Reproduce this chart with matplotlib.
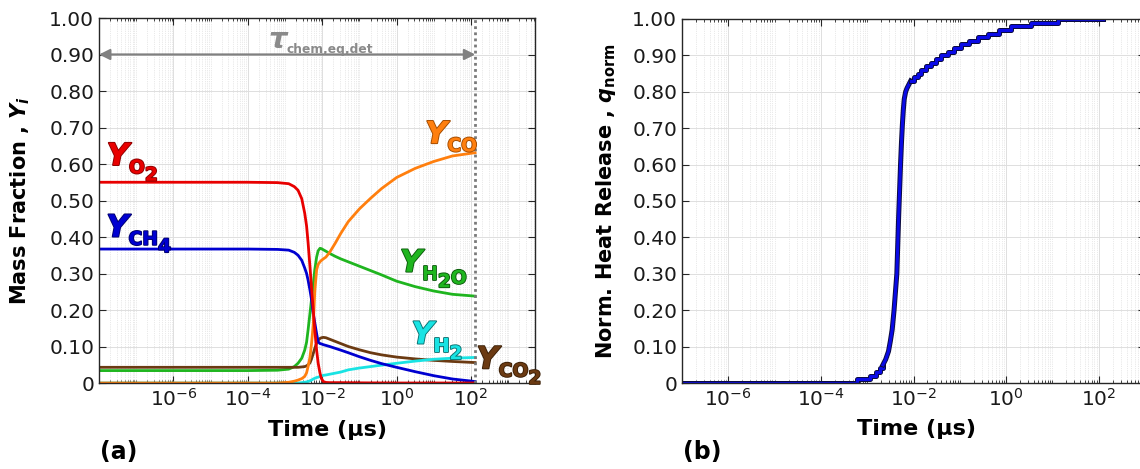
import numpy as np
import matplotlib
matplotlib.use("Agg")
import matplotlib.pyplot as plt
import matplotlib.patheffects as pe
from matplotlib.ticker import LogLocator, FixedLocator, NullFormatter

plt.rcParams['font.family'] = 'DejaVu Sans'
plt.rcParams['mathtext.fontset'] = 'custom'
plt.rcParams['mathtext.it'] = 'DejaVu Sans:italic:bold'
plt.rcParams['mathtext.rm'] = 'DejaVu Sans:bold'
plt.rcParams['mathtext.bf'] = 'DejaVu Sans:bold'

# species mass fractions vs log10(time / us)
logt = [-8.0, -4.0, -3.2, -2.9, -2.75, -2.65, -2.55, -2.47, -2.42, -2.38, -2.33,
        -2.29, -2.24, -2.20, -2.15, -2.11, -2.06, -2.02, -1.97, -1.9, -1.8,
        -1.65, -1.5, -1.3, -1.0, -0.7, -0.4, 0.0, 0.5, 1.0, 1.5, 2.11]
Y_O2 = [0.550, 0.550, 0.549, 0.546, 0.538, 0.528, 0.505, 0.465, 0.430, 0.385, 0.320,
        0.265, 0.200, 0.145, 0.090, 0.055, 0.027, 0.012, 0.004, 0.0015, 0.001,
        0.001, 0.001, 0.0008, 0.0005, 0.0003, 0.0002, 0.0, 0.0, 0.0, 0.0, 0.0]
Y_CH4 = [0.367, 0.367, 0.366, 0.364, 0.358, 0.350, 0.336, 0.315, 0.300, 0.282, 0.255,
         0.230, 0.190, 0.165, 0.135, 0.113, 0.108, 0.107, 0.105, 0.103, 0.100,
         0.095, 0.090, 0.083, 0.072, 0.062, 0.053, 0.043, 0.031, 0.020, 0.011, 0.004]
Y_CO = [0.0, 0.0, 0.0, 0.002, 0.005, 0.008, 0.012, 0.018, 0.028, 0.045, 0.070,
        0.105, 0.160, 0.250, 0.310, 0.325, 0.332, 0.336, 0.340, 0.345, 0.358,
        0.383, 0.410, 0.442, 0.477, 0.506, 0.533, 0.563, 0.588, 0.607, 0.622, 0.631]
Y_H2O = [0.034, 0.034, 0.035, 0.038, 0.045, 0.054, 0.068, 0.090, 0.112, 0.145, 0.190,
         0.227, 0.270, 0.310, 0.345, 0.362, 0.369, 0.368, 0.365, 0.361, 0.355,
         0.347, 0.340, 0.332, 0.320, 0.308, 0.296, 0.279, 0.264, 0.252, 0.243, 0.238]
Y_CO2 = [0.043, 0.043, 0.043, 0.043, 0.043, 0.043, 0.044, 0.045, 0.047, 0.050, 0.055,
         0.065, 0.081, 0.095, 0.109, 0.117, 0.122, 0.124, 0.125, 0.124, 0.120,
         0.114, 0.108, 0.100, 0.091, 0.083, 0.077, 0.071, 0.066, 0.062, 0.059, 0.056]
Y_H2 = [0.0, 0.0, 0.0, 0.0, 0.0, 0.0, 0.001, 0.002, 0.003, 0.004, 0.006,
        0.008, 0.011, 0.013, 0.015, 0.016, 0.018, 0.019, 0.021, 0.022, 0.024,
        0.027, 0.030, 0.036, 0.041, 0.045, 0.049, 0.054, 0.060, 0.065, 0.068, 0.070]

# normalised heat release: early steps, steep rise, late steps
q_low_logt = [-7.0, -3.23, -2.94, -2.82, -2.72, -2.66]
q_low = [0.0, 0.01, 0.02, 0.03, 0.04, 0.05]
q_rise_logt = [-2.66, -2.60, -2.54, -2.50, -2.46, -2.42, -2.39, -2.36, -2.34, -2.32,
               -2.30, -2.28, -2.26, -2.24, -2.22, -2.20, -2.17, -2.14, -2.10, -2.06]
q_rise = [0.05, 0.065, 0.087, 0.115, 0.147, 0.20, 0.25, 0.30, 0.38, 0.46,
          0.53, 0.60, 0.66, 0.71, 0.75, 0.78, 0.80, 0.81, 0.82, 0.83]
q_high_logt = [-2.06, -1.98, -1.91, -1.84, -1.73, -1.62, -1.51, -1.40, -1.26, -1.12,
               -0.97, -0.80, -0.61, -0.40, -0.15, 0.11, 0.54, 1.12, 2.09]
q_high = [0.83, 0.84, 0.85, 0.86, 0.87, 0.88, 0.89, 0.90, 0.91, 0.92,
          0.93, 0.94, 0.95, 0.96, 0.97, 0.98, 0.99, 1.00, 1.00]

t_eq = 130.0  # end of integration, us
yticks = [0, 0.1, 0.2, 0.3, 0.4, 0.5, 0.6, 0.7, 0.8, 0.9, 1.0]
ytick_labels = ['0'] + ['%.2f' % v for v in yticks[1:]]

c_o2, c_ch4, c_co = '#e80000', '#0000d0', '#ff7f0e'
c_h2o, c_co2, c_h2 = '#1fb51f', '#6b3a12', '#19e3e3'


def style_axes(ax, xlim):
    ax.set_xscale('log')
    ax.set_xlim(*xlim)
    ax.set_ylim(0, 1)
    ax.set_yticks(yticks)
    ax.set_yticklabels(ytick_labels)
    ax.xaxis.set_major_locator(FixedLocator([1e-6, 1e-4, 1e-2, 1e0, 1e2]))
    ax.xaxis.set_minor_locator(LogLocator(base=10, subs=np.arange(1, 10), numticks=30))
    ax.xaxis.set_minor_formatter(NullFormatter())
    ax.tick_params(which='both', direction='in', top=True, right=True,
                   labelsize=14.5, colors='#262626', labelcolor='#1a1a1a')
    ax.tick_params(which='major', length=5, width=0.8)
    ax.tick_params(which='minor', length=2.5, width=0.6)
    ax.grid(True, which='major', color='#dedede', lw=0.7, ls='-')
    ax.grid(True, which='minor', axis='x', color='#d4d4d4', lw=0.5, ls=':')
    ax.set_axisbelow(True)
    for s in ax.spines.values():
        s.set_color('#262626')
        s.set_linewidth(1.0)
    ax.set_xlabel('Time (μs)', fontsize=16, fontweight='bold')


def sub_label(ax, x, y, head, parts, color, edge, size=22, sub_size=13.5):
    # italic head symbol followed by subscript pieces; each piece is
    # (text, baseline shift in points relative to the previous piece's bbox bottom)
    kw = dict(color=color, fontweight='bold')
    if edge is not None:
        kw['path_effects'] = [pe.withStroke(linewidth=1.3, foreground=edge)]
    t = ax.text(x, y, head, fontsize=size, fontstyle='italic',
                va='baseline', ha='left', **kw)
    for s, dy in parts:
        t = ax.annotate(s, xy=(1, 0), xycoords=t, xytext=(0, dy),
                        textcoords='offset points', va='baseline', ha='left',
                        fontsize=sub_size, **kw)


fig = plt.figure(figsize=(11.4, 4.69), dpi=100)
ax1 = fig.add_axes([99 / 1140, 86 / 469, 436 / 1140, 365 / 469])
ax2 = fig.add_axes([682 / 1140, 86 / 469, 463 / 1140, 364 / 469])

# (a) species mass fractions
t = 10.0 ** np.array(logt)
ax1.plot(t, Y_H2O, color=c_h2o, lw=2)
ax1.plot(t, Y_CO2, color=c_co2, lw=2)
ax1.plot(t, Y_H2, color=c_h2, lw=2)
ax1.plot(t, Y_CH4, color=c_ch4, lw=2)
ax1.plot(t, Y_CO, color=c_co, lw=2)
ax1.plot(t, Y_O2, color=c_o2, lw=2)
style_axes(ax1, (1e-8, 10 ** 3.72))
ax1.set_ylabel(r'Mass Fraction , $Y_i$', fontsize=15, fontweight='bold', labelpad=12)
ax1.xaxis.set_label_coords(0.523, -0.10)

ax1.axvline(t_eq, color='#7a7a7a', lw=2, ls=(0, (1, 1.2)))
ax1.annotate('', xy=(1e-8, 0.9), xytext=(t_eq, 0.9),
             arrowprops=dict(arrowstyle='<|-|>', color='#808080', lw=1.6,
                             mutation_scale=16, shrinkA=0, shrinkB=0))
sub_label(ax1, 10 ** -3.45, 0.918, 'τ', [('chem,eq,det', 1.0)], '#8a8a8a', None,
          size=21, sub_size=8.8)

sub_label(ax1, 10 ** -7.79, 0.597, 'Y', [('O', -1.6), ('2', -2.4)], c_o2, '#8a0000')
sub_label(ax1, 10 ** -7.8, 0.401, 'Y', [('CH', -1.6), ('4', -2.4)], c_ch4, '#00006a')
sub_label(ax1, 10 ** 0.77, 0.657, 'Y', [('CO', -1.6)], c_co, '#a04a00')
sub_label(ax1, 10 ** 0.09, 0.305, 'Y', [('H', -1.6), ('2', -2.4), ('O', 5.4)], c_h2o, '#0b5a0b')
sub_label(ax1, 10 ** 0.40, 0.108, 'Y', [('H', -1.6), ('2', -2.4)], c_h2, '#0a7070')
sub_label(ax1, 10 ** 2.15, 0.040, 'Y', [('CO', -1.6), ('2', -2.4)], c_co2, '#3a1e05')

# (b) normalised heat release
q_kw = dict(color='#0a0ae6', lw=2.2,
            path_effects=[pe.Stroke(linewidth=3.6, foreground='#0a0a40'), pe.Normal()])
ax2.plot(10.0 ** np.array(q_low_logt), q_low, drawstyle='steps-post', **q_kw)
ax2.plot(10.0 ** np.array(q_rise_logt), q_rise, **q_kw)
ax2.plot(10.0 ** np.array(q_high_logt), q_high, drawstyle='steps-post', **q_kw)
style_axes(ax2, (1e-7, 1e3))
ax2.set_ylabel(r'Norm. Heat Release , $q_{\mathrm{norm}}$', fontsize=15,
               fontweight='bold', labelpad=10)
ax2.xaxis.set_label_coords(0.506, -0.10)

fig.text(100 / 1140, 1 - 452 / 469, '(a)', fontsize=17, fontweight='bold', va='center')
fig.text(683 / 1140, 1 - 452 / 469, '(b)', fontsize=17, fontweight='bold', va='center')

fig.savefig('out.png', dpi=100)
